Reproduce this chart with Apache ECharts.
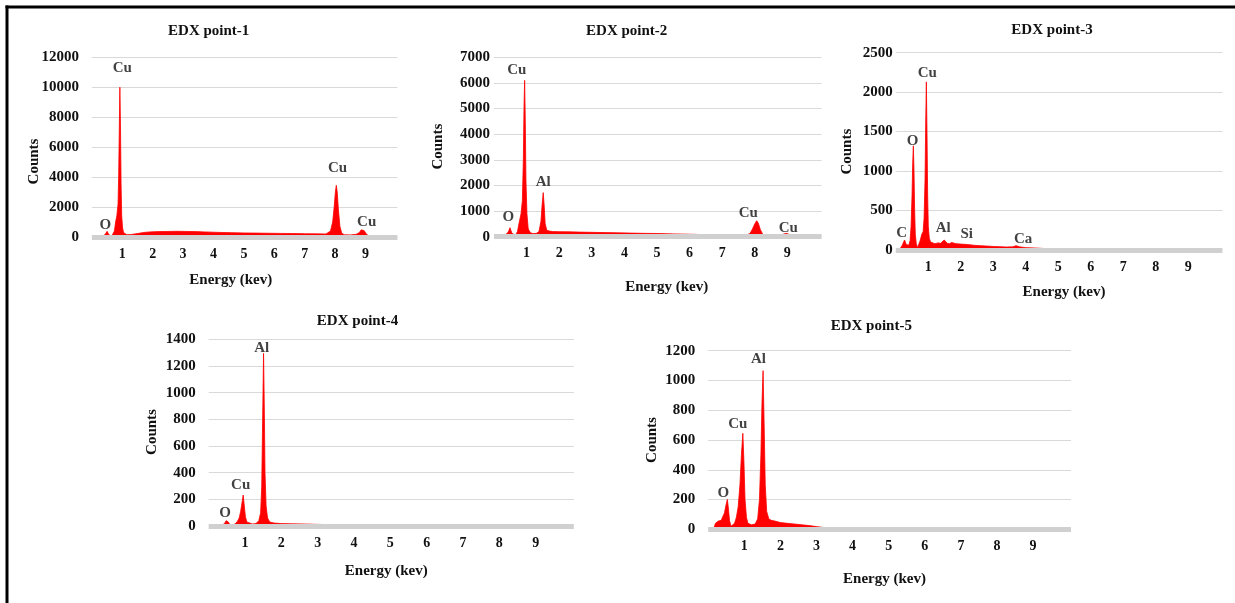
<!DOCTYPE html>
<html>
<head>
<meta charset="utf-8">
<script src="https://cdn.jsdelivr.net/npm/echarts@6/dist/echarts.min.js"></script>
<style>
html,body{margin:0;padding:0;background:#fff;}
#c{width:1235px;height:603px;}
</style>
</head>
<body>
<div id="c"></div>
<script>
// ---- data: [energy (keV), counts] ----
const titles = ['EDX point-1','EDX point-2','EDX point-3','EDX point-4','EDX point-5'];
const xTickLabels = ['1','2','3','4','5','6','7','8','9'];
const yMax  = [12000, 7000, 2500, 1400, 1200];
const yStep = [2000, 1000, 500, 200, 200];

const spectrum1 = [[0.20,0],[0.26,30],[0.32,50],[0.38,80],[0.43,150],[0.47,260],[0.50,380],[0.53,300],[0.56,150],[0.60,70],[0.65,50],[0.70,120],[0.74,400],[0.78,1000],[0.82,1400],[0.86,2200],[0.88,4000],[0.90,7000],[0.92,10000],[0.94,7500],[0.96,3500],[0.98,1400],[1.01,600],[1.04,300],[1.08,180],[1.15,150],[1.3,170],[1.5,230],[1.7,300],[1.9,340],[2.2,360],[2.5,370],[2.8,380],[3.1,370],[3.4,360],[3.7,340],[4.0,320],[4.3,300],[4.6,290],[5.0,270],[5.4,260],[5.8,250],[6.2,240],[6.6,230],[7.0,220],[7.4,210],[7.7,200],[7.85,400],[7.92,1000],[7.97,2000],[8.01,3000],[8.04,3450],[8.07,3000],[8.11,1800],[8.16,700],[8.22,250],[8.3,150],[8.5,140],[8.7,180],[8.8,300],[8.86,480],[8.91,520],[8.96,420],[9.02,220],[9.1,80],[9.2,0]];
const spectrum2 = [[0.10,0],[0.15,40],[0.25,60],[0.35,80],[0.42,150],[0.46,250],[0.49,350],[0.52,280],[0.55,130],[0.60,60],[0.66,60],[0.72,200],[0.78,600],[0.83,900],[0.87,1400],[0.90,3000],[0.92,5000],[0.94,6100],[0.96,4500],[0.98,2200],[1.01,900],[1.05,300],[1.12,150],[1.2,120],[1.3,130],[1.38,200],[1.44,600],[1.48,1300],[1.51,1720],[1.54,1200],[1.57,500],[1.62,250],[1.7,220],[1.8,200],[2.0,195],[2.3,190],[2.6,180],[3.0,170],[3.4,160],[3.8,150],[4.2,140],[4.6,130],[5.0,125],[5.5,110],[6.0,95],[6.5,80],[7.0,65],[7.4,55],[7.7,50],[7.85,120],[7.93,300],[8.0,500],[8.06,625],[8.11,520],[8.17,280],[8.24,100],[8.35,40],[8.6,40],[8.8,60],[8.9,110],[8.97,130],[9.04,100],[9.12,30],[9.2,0]];
const spectrum3 = [[0.10,0],[0.15,30],[0.20,60],[0.24,100],[0.27,127],[0.29,110],[0.32,70],[0.36,50],[0.40,60],[0.44,120],[0.47,300],[0.50,700],[0.52,1100],[0.54,1320],[0.56,1000],[0.58,500],[0.60,200],[0.63,80],[0.67,30],[0.71,50],[0.75,120],[0.80,200],[0.84,230],[0.87,400],[0.90,900],[0.92,1600],[0.94,2130],[0.96,1500],[0.98,700],[1.00,300],[1.03,150],[1.07,100],[1.12,85],[1.2,80],[1.3,90],[1.38,85],[1.44,110],[1.49,127],[1.53,110],[1.58,85],[1.65,80],[1.72,95],[1.78,90],[1.85,80],[2.0,75],[2.2,70],[2.4,60],[2.6,55],[2.8,50],[3.0,45],[3.2,42],[3.4,38],[3.6,40],[3.7,55],[3.8,40],[4.0,30],[4.3,25],[4.6,18],[5.0,10],[5.3,5],[5.6,0]];
const spectrum4 = [[0.25,0],[0.3,5],[0.38,8],[0.44,20],[0.48,40],[0.51,45],[0.54,30],[0.58,10],[0.65,8],[0.72,15],[0.78,30],[0.84,60],[0.88,110],[0.92,180],[0.95,232],[0.98,150],[1.01,70],[1.05,30],[1.1,18],[1.2,15],[1.3,18],[1.38,40],[1.43,100],[1.46,300],[1.48,700],[1.50,1100],[1.51,1295],[1.53,900],[1.55,400],[1.58,150],[1.62,60],[1.68,30],[1.8,22],[2.0,18],[2.3,16],[2.6,15],[3.0,12],[3.4,10],[3.7,8],[4.0,5],[4.4,3],[5.0,2],[5.5,1],[5.6,0]];
const spectrum5 = [[0.15,0],[0.2,40],[0.24,35],[0.28,55],[0.32,45],[0.36,60],[0.40,70],[0.45,110],[0.49,160],[0.53,201],[0.56,140],[0.59,60],[0.63,20],[0.68,15],[0.73,40],[0.78,80],[0.83,150],[0.88,300],[0.92,500],[0.96,645],[0.99,450],[1.02,200],[1.06,80],[1.1,40],[1.2,30],[1.3,35],[1.37,70],[1.42,200],[1.46,500],[1.49,850],[1.52,1066],[1.55,700],[1.58,300],[1.62,120],[1.68,70],[1.75,60],[1.85,55],[2.0,45],[2.2,40],[2.4,35],[2.6,30],[2.8,25],[3.0,18],[3.2,12],[3.4,8],[3.5,5],[3.55,0]];

// peak labels: [element, energy, counts] (label centre)
const peaks1 = [['Cu',1.00,11300],['O',0.44,800],['Cu',8.08,4590],['Cu',9.04,1020]];
const peaks2 = [['Cu',0.70,6500],['Al',1.51,2110],['O',0.44,760],['Cu',7.80,910],['Cu',9.03,350]];
const peaks3 = [['Cu',0.97,2247],['O',0.52,1385],['C',0.18,211],['Al',1.46,283],['Si',2.18,199],['Ca',3.92,139]];
const peaks4 = [['Al',1.46,1332],['Cu',0.88,307],['O',0.45,95]];
const peaks5 = [['Al',1.39,1142],['Cu',0.82,707],['O',0.42,246]];

const spectra = [spectrum1, spectrum2, spectrum3, spectrum4, spectrum5];
const peaks = [peaks1, peaks2, peaks3, peaks4, peaks5];

// ---- layout ----
const FONT = 'Liberation Serif';
const TXT = '#111';
const grids = [
  {left:91.9, top:57.3, width:305.5, height:179.7},
  {left:494,  top:57.3, width:327.6, height:179.4},
  {left:895.8,top:52.7, width:326.6, height:197.3},
  {left:208.7,top:339.3,width:365.1, height:186.7},
  {left:708.2,top:350.7,width:362.8, height:178.6}
];
const yLabelMargin = [13, 4, 3, 13, 13];
const yLabelSize = [15, 15, 15, 15, 15];
const titlePos = [[208.7,31.5],[626.7,31.5],[1052,30.5],[357.5,321],[871.3,326]];
const countsPos = [[34.5,161.5],[438,146.7],[847.5,151.7],[152.5,432],[652,440]];
const energyPos = [[230.8,280],[666.7,287],[1064,292.5],[386.3,571.5],[884.5,579.5]];

const chart = echarts.init(document.getElementById('c'), null, {renderer:'canvas'});

const xAxes = [], yAxes = [], series = [], graphic = [];
grids.forEach((g, i) => {
  xAxes.push({
    gridIndex:i, type:'value', min:0, max:10.05, interval:1, z:5,
    axisLine:{show:true, onZero:true, lineStyle:{color:'#d0d0d0', width:5, cap:'butt'}},
    axisTick:{show:false}, splitLine:{show:false},
    axisLabel:{margin:10, fontFamily:FONT, fontWeight:'bold', fontSize:14, color:TXT,
      formatter:v => { const s = String(v); return xTickLabels.indexOf(s) >= 0 ? s : ''; }}
  });
  yAxes.push({
    gridIndex:i, type:'value', min:0, max:yMax[i], interval:yStep[i],
    axisLine:{show:false}, axisTick:{show:false},
    splitLine:{show:true, lineStyle:{color:'#d9d9d9', width:1}},
    axisLabel:{margin:yLabelMargin[i], fontFamily:FONT, fontWeight:'bold', fontSize:yLabelSize[i], color:TXT,
      formatter:v => String(v)}
  });
  series.push({
    type:'line', xAxisIndex:i, yAxisIndex:i, data:spectra[i], showSymbol:false, symbol:'none',
    lineStyle:{color:'#ff0000', width:0.8}, areaStyle:{color:'#ff0000', opacity:1, origin:'start'},
    z:2, silent:true
  });
  series.push({
    type:'scatter', xAxisIndex:i, yAxisIndex:i, symbolSize:1, z:10,
    itemStyle:{color:'rgba(0,0,0,0)'},
    data:peaks[i].map(p => ({name:p[0], value:[p[1], p[2]]})),
    label:{show:true, position:'inside', formatter:'{b}', fontFamily:FONT, fontWeight:'bold', fontSize:15, color:TXT}
  });
  graphic.push({type:'text', x:titlePos[i][0], y:titlePos[i][1],
    style:{text:titles[i], textAlign:'center', textVerticalAlign:'middle', font:'bold 15px "' + FONT + '"', fill:TXT}});
  graphic.push({type:'text', x:countsPos[i][0], y:countsPos[i][1], rotation:Math.PI/2,
    style:{text:'Counts', textAlign:'center', textVerticalAlign:'middle', font:'bold 15px "' + FONT + '"', fill:TXT}});
  graphic.push({type:'text', x:energyPos[i][0], y:energyPos[i][1],
    style:{text:'Energy (kev)', textAlign:'center', textVerticalAlign:'middle', font:'bold 15px "' + FONT + '"', fill:TXT}});
});
// frame (top and left edges)
graphic.push({type:'line', shape:{x1:5.5, y1:7, x2:1235, y2:7}, style:{stroke:'#000', lineWidth:3}});
graphic.push({type:'line', shape:{x1:7, y1:5.5, x2:7, y2:603}, style:{stroke:'#000', lineWidth:3}});

chart.setOption({
  animation:false,
  backgroundColor:'#fff',
  grid:grids.map(g => Object.assign({containLabel:false}, g)),
  xAxis:xAxes, yAxis:yAxes, series:series, graphic:graphic
});
</script>
</body>
</html>
